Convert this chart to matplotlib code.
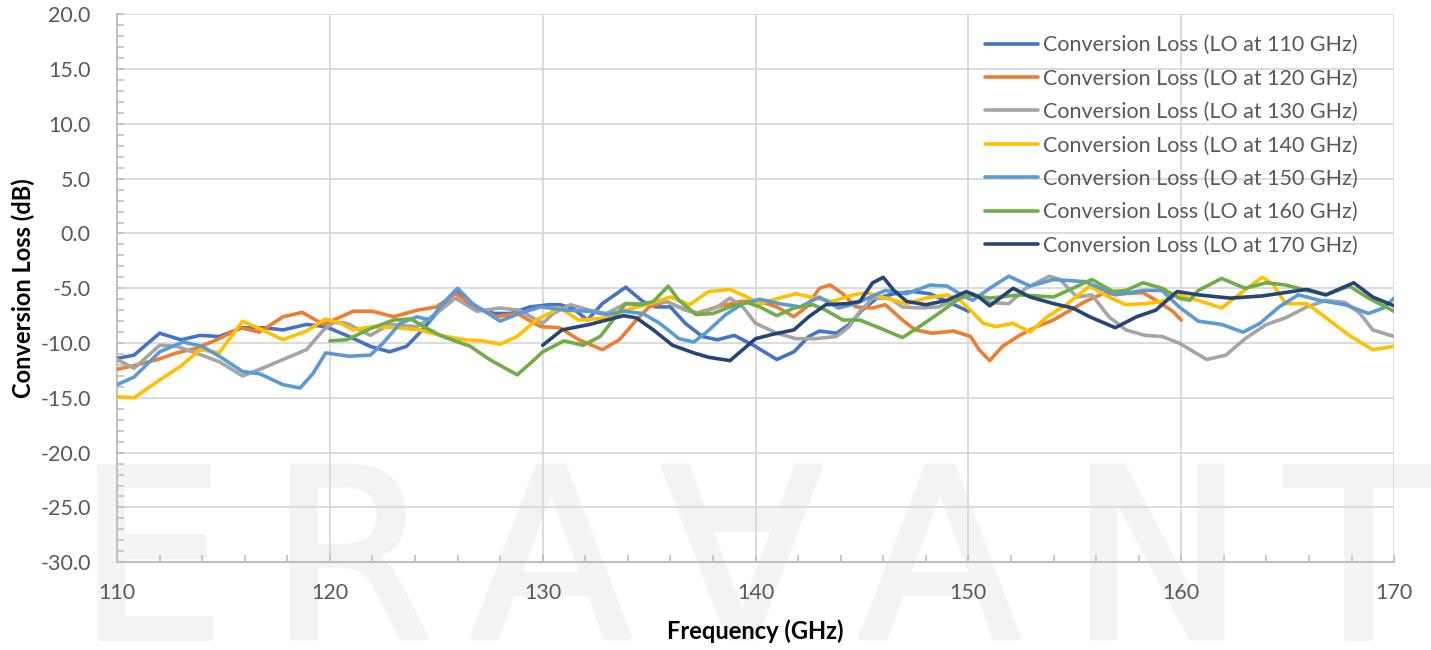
import matplotlib
matplotlib.use("Agg")
import matplotlib.pyplot as plt
import matplotlib.patheffects as pe
from matplotlib.ticker import MultipleLocator, FormatStrFormatter

plt.rcParams['font.family'] = ['Lato', 'DejaVu Sans']

# LO at 110 GHz
f110 = [110.0, 110.8, 112.0, 113.0, 113.9, 114.8, 115.9, 116.9, 117.8, 118.9, 119.8,
        120.9, 121.9, 122.8, 123.6, 124.2, 125.0, 125.9, 126.7, 127.7, 128.5, 129.4, 130.3,
        130.8, 131.4, 132.1, 132.8, 133.9, 134.7, 135.3, 136.0, 136.7, 137.5, 138.2, 139.0, 139.9,
        141.0, 141.8, 142.5, 143.0, 143.8, 144.4, 145.0, 145.7, 146.5, 147.4, 148.2, 149.0, 150.0]
cl110 = [-11.4, -11.1, -9.1, -9.7, -9.3, -9.4, -8.6, -8.6, -8.8, -8.3, -8.5,
         -9.4, -10.3, -10.8, -10.3, -9.1, -7.3, -5.2, -6.7, -7.3, -7.3, -6.7, -6.5,
         -6.5, -6.8, -7.9, -6.4, -4.9, -6.2, -6.7, -6.7, -8.2, -9.4, -9.7, -9.3, -10.2,
         -11.5, -10.8, -9.4, -8.9, -9.1, -8.3, -7.0, -5.9, -5.5, -5.3, -5.5, -6.2, -7.1]

# LO at 120 GHz
f120 = [110.0, 110.9, 111.9, 112.8, 113.7, 114.8, 115.8, 116.7, 117.8, 118.7, 119.7,
        121.1, 122.0, 123.0, 124.1, 125.0, 125.9, 126.9, 127.8, 128.8, 129.9,
        130.8, 131.7, 132.8, 133.6, 134.4, 135.0, 135.8, 136.4, 137.2, 138.2, 139.3, 140.2,
        141.0, 141.8, 142.4, 143.0, 143.5, 144.1, 144.7, 145.5, 146.1, 146.9, 147.5, 148.3,
        149.3, 150.1, 150.5, 151.0, 151.6, 152.4, 153.2, 154.0, 154.7, 155.5, 156.3, 157.2,
        158.2, 158.9, 159.6, 160.0]
cl120 = [-12.4, -12.0, -11.5, -10.9, -10.5, -9.6, -8.6, -9.0, -7.6, -7.2, -8.3,
         -7.1, -7.1, -7.6, -7.0, -6.7, -5.5, -6.7, -7.6, -7.3, -8.5,
         -8.6, -9.7, -10.6, -9.7, -7.9, -6.7, -6.2, -6.7, -7.3, -6.7, -6.2, -6.2,
         -6.7, -7.6, -6.7, -5.0, -4.7, -5.5, -6.7, -6.8, -6.5, -7.9, -8.8, -9.1,
         -8.9, -9.4, -10.6, -11.6, -10.3, -9.3, -8.5, -7.9, -7.1, -6.2, -5.5, -5.5,
         -5.4, -6.2, -7.1, -7.9]

# LO at 130 GHz
f130 = [110.0, 110.8, 112.0, 112.8, 113.7, 114.8, 115.9, 116.7, 117.8, 118.9, 119.7,
        120.2, 120.8, 121.9, 122.8, 124.1, 125.0, 125.9, 126.9, 128.0, 128.9, 130.0,
        130.5, 131.3, 132.2, 133.0, 133.9, 134.9, 135.8, 136.7, 137.4, 138.2, 138.8, 139.4,
        140.0, 141.0, 141.9, 142.8, 143.8, 144.4, 144.9, 145.5, 146.3, 146.9, 147.7, 148.6,
        149.6, 150.2, 151.0, 151.9, 152.7, 153.8, 154.3, 155.1, 155.8, 156.6, 157.4, 158.3,
        159.1, 159.9, 161.2, 162.1, 163.0, 164.0, 164.9, 165.9, 166.8, 167.7, 168.4, 169.0, 170.0]
cl130 = [-11.5, -12.3, -10.2, -10.3, -10.9, -11.7, -13.0, -12.4, -11.5, -10.6, -8.8,
         -8.1, -8.2, -9.3, -8.3, -8.5, -7.3, -5.9, -7.1, -6.8, -7.0, -8.2,
         -7.3, -6.5, -7.0, -7.3, -6.4, -6.4, -6.2, -7.0, -7.3, -6.7, -5.9, -6.7,
         -8.2, -9.1, -9.6, -9.6, -9.4, -8.5, -7.1, -5.9, -5.9, -6.7, -6.8, -6.7,
         -5.8, -5.5, -6.3, -6.4, -5.0, -3.9, -4.2, -5.8, -5.6, -7.6, -8.8, -9.3,
         -9.4, -10.0, -11.5, -11.1, -9.6, -8.3, -7.7, -6.7, -6.1, -6.3, -7.3, -8.8, -9.4]

# LO at 140 GHz
f140 = [110.0, 110.8, 111.9, 113.0, 113.9, 114.8, 115.9, 116.6, 117.8, 118.9, 119.8,
        120.5, 121.1, 122.0, 123.1, 124.2, 125.2, 126.3, 127.2, 128.0, 128.8, 129.7,
        130.8, 131.7, 133.0, 133.9, 135.0, 136.0, 136.9, 137.8, 138.8, 139.6, 140.2,
        141.1, 141.9, 142.8, 143.6, 144.6, 145.2, 146.1, 147.1, 148.0, 149.0, 149.6, 150.1,
        150.7, 151.3, 152.1, 152.9, 153.7, 154.6, 155.7, 156.6, 157.4, 158.3, 159.1, 159.8,
        160.8, 161.9, 162.9, 163.8, 164.3, 164.9, 165.9, 166.8, 167.9, 169.0, 170.0]
cl140 = [-14.9, -15.0, -13.5, -12.1, -10.6, -10.9, -8.0, -8.6, -9.7, -8.9, -7.8,
         -8.2, -8.8, -8.5, -8.6, -8.8, -9.3, -9.7, -9.8, -10.1, -9.4, -7.9,
         -6.8, -7.9, -7.7, -7.0, -6.4, -5.8, -6.5, -5.3, -5.1, -5.8, -6.4,
         -5.9, -5.5, -5.9, -6.2, -5.6, -5.4, -5.9, -6.4, -5.9, -5.6, -6.1, -7.0,
         -8.2, -8.5, -8.2, -9.0, -7.6, -6.5, -4.8, -5.8, -6.5, -6.4, -6.2, -5.6,
         -6.1, -6.8, -5.3, -4.0, -4.6, -6.4, -6.4, -7.7, -9.3, -10.6, -10.3]

# LO at 150 GHz
f150 = [110.0, 110.8, 112.0, 113.1, 114.0, 114.8, 115.9, 116.7, 117.8, 118.6, 119.2, 119.8,
        120.9, 121.9, 122.5, 123.3, 124.1, 124.7, 125.3, 126.0, 126.7, 128.0, 128.9, 129.9,
        131.1, 132.2, 133.0, 133.8, 134.7, 135.5, 136.4, 137.1, 137.7, 138.6, 139.4, 140.2,
        141.1, 142.1, 143.0, 143.9, 144.7, 145.4, 146.1, 147.1, 148.2, 149.0, 149.6, 150.2,
        151.0, 151.9, 152.9, 154.0, 155.5, 156.9, 158.2, 159.1, 159.9,
        160.8, 161.9, 162.9, 163.7, 164.6, 165.5, 166.5, 167.7, 168.8, 169.5, 170.0]
cl150 = [-13.8, -13.1, -10.8, -9.9, -10.3, -11.2, -12.6, -12.8, -13.8, -14.1, -12.8, -10.9,
         -11.2, -11.1, -10.0, -8.2, -7.6, -7.9, -6.4, -5.0, -6.4, -8.0, -7.3, -6.7,
         -7.0, -7.1, -7.4, -7.1, -7.3, -8.2, -9.6, -9.9, -9.0, -7.4, -6.4, -6.0,
         -6.4, -6.7, -5.8, -6.8, -6.4, -5.8, -5.2, -5.5, -4.7, -4.8, -5.5, -6.1,
         -5.0, -3.9, -4.8, -4.2, -4.4, -5.6, -5.2, -5.2, -6.7,
         -8.0, -8.3, -9.0, -8.2, -6.7, -5.6, -6.1, -6.5, -7.3, -6.8, -5.9]

# LO at 160 GHz
f160 = [120.0, 120.8, 122.0, 123.0, 123.8, 124.5, 125.3, 126.6, 127.5, 128.8, 129.5, 130.0,
        131.0, 131.9, 132.7, 133.3, 133.9, 134.6, 135.2, 135.9, 136.4, 137.2, 138.0, 138.8,
        139.6, 140.2, 141.0, 141.8, 142.7, 143.3, 144.1, 144.9, 145.8, 146.9, 147.7, 148.6,
        149.6, 150.2, 151.0, 152.4, 154.0, 154.9, 155.8, 156.8, 157.4, 158.2, 159.1, 159.9,
        160.4, 160.8, 161.9, 163.0, 164.0, 164.9, 165.9, 166.8, 167.9, 168.8, 170.0]
cl160 = [-9.8, -9.7, -8.6, -7.9, -7.8, -8.6, -9.4, -10.3, -11.5, -12.9, -11.7, -10.8,
         -9.8, -10.2, -9.4, -7.9, -6.4, -6.5, -6.2, -4.8, -6.1, -7.4, -7.3, -6.7,
         -6.3, -6.7, -7.5, -6.8, -6.5, -7.0, -7.9, -7.9, -8.6, -9.5, -8.5, -7.3,
         -5.9, -5.6, -5.9, -5.6, -5.8, -5.0, -4.2, -5.3, -5.2, -4.5, -5.0, -5.9,
         -6.1, -5.2, -4.1, -5.0, -4.5, -4.7, -5.2, -5.6, -4.8, -5.9, -7.1]

# LO at 170 GHz
f170 = [130.0, 130.9, 132.2, 133.0, 133.8, 134.4, 135.2, 136.1, 137.1, 137.8, 138.8, 139.4,
        140.0, 140.8, 141.8, 142.5, 143.3, 144.3, 144.9, 145.5, 146.0, 146.5, 147.1, 148.0,
        149.0, 149.9, 150.5, 151.0, 152.1, 152.9, 154.0, 154.9, 155.7, 156.9, 157.9, 158.8,
        159.8, 160.8, 162.3, 163.8, 165.9, 166.8, 168.1, 169.0, 170.0]
cl170 = [-10.2, -8.8, -8.3, -7.9, -7.5, -7.7, -8.8, -10.2, -10.9, -11.3, -11.6, -10.6,
         -9.6, -9.2, -8.8, -7.6, -6.5, -6.4, -6.2, -4.5, -4.0, -5.2, -6.2, -6.5,
         -6.1, -5.3, -5.8, -6.6, -5.0, -5.8, -6.4, -6.8, -7.6, -8.6, -7.6, -7.0,
         -5.3, -5.6, -5.9, -5.7, -5.1, -5.6, -4.5, -5.8, -6.6]

series = [(f110, cl110, "Conversion Loss (LO at 110 GHz)", "#4472C4"),
          (f120, cl120, "Conversion Loss (LO at 120 GHz)", "#ED7D31"),
          (f130, cl130, "Conversion Loss (LO at 130 GHz)", "#A5A5A5"),
          (f140, cl140, "Conversion Loss (LO at 140 GHz)", "#FFC000"),
          (f150, cl150, "Conversion Loss (LO at 150 GHz)", "#5B9BD5"),
          (f160, cl160, "Conversion Loss (LO at 160 GHz)", "#70AD47"),
          (f170, cl170, "Conversion Loss (LO at 170 GHz)", "#264478")]

fig = plt.figure(figsize=(14.31, 6.5), dpi=100, facecolor="white")
ax = fig.add_axes([0.0818, 0.135, 0.8924, 0.843])
ax.patch.set_alpha(0)

# watermark letters behind the plot
wm_letters = ["E", "R", "A", "\u2200", "A", "N", "T"]
wm_x = [150, 351, 551, 742, 940, 1157, 1358]
for ch, xp in zip(wm_letters, wm_x):
    fig.text(xp / 1431, 12 / 650, ch, ha="center", va="baseline", fontsize=170,
             color="#f3f3f3", family="DejaVu Sans", zorder=-5,
             path_effects=[pe.withStroke(linewidth=3.5, foreground="#f3f3f3")])

for f, v, lab, c in series:
    ax.plot(f, v, color=c, lw=2.6, label=lab, solid_capstyle="round",
            solid_joinstyle="round", zorder=3)

ax.set_xlim(110, 170)
ax.set_ylim(-30, 20)
ax.xaxis.set_major_locator(MultipleLocator(10))
ax.xaxis.set_minor_locator(MultipleLocator(2))
ax.yaxis.set_major_locator(MultipleLocator(5))
ax.yaxis.set_minor_locator(MultipleLocator(1))
ax.yaxis.set_major_formatter(FormatStrFormatter("%.1f"))

ax.grid(True, which="major", color="#d9d9d9", lw=1.3, zorder=1)
ax.set_axisbelow(True)
for s in ["top", "right"]:
    ax.spines[s].set_visible(False)
for s in ["left", "bottom"]:
    ax.spines[s].set_color("#bfbfbf")
    ax.spines[s].set_linewidth(1.5)

ax.tick_params(which="both", direction="in", color="#bfbfbf", width=1.2, length=5,
               labelsize=15.5, labelcolor="#595959")
ax.tick_params(axis="x", which="major", pad=15)
ax.tick_params(axis="y", which="major", pad=19)

ax.set_xlabel("Frequency (GHz)", fontsize=17, fontweight="bold", labelpad=12)
ax.set_ylabel("Conversion Loss (dB)", fontsize=17, fontweight="bold", labelpad=4)

leg = ax.legend(loc="upper right", bbox_to_anchor=(0.987, 0.997), frameon=False,
                fontsize=15.5, handlelength=2.45, labelspacing=0.62, handletextpad=0.25,
                labelcolor="#595959")

fig.savefig("out.png", dpi=100, facecolor="white")
